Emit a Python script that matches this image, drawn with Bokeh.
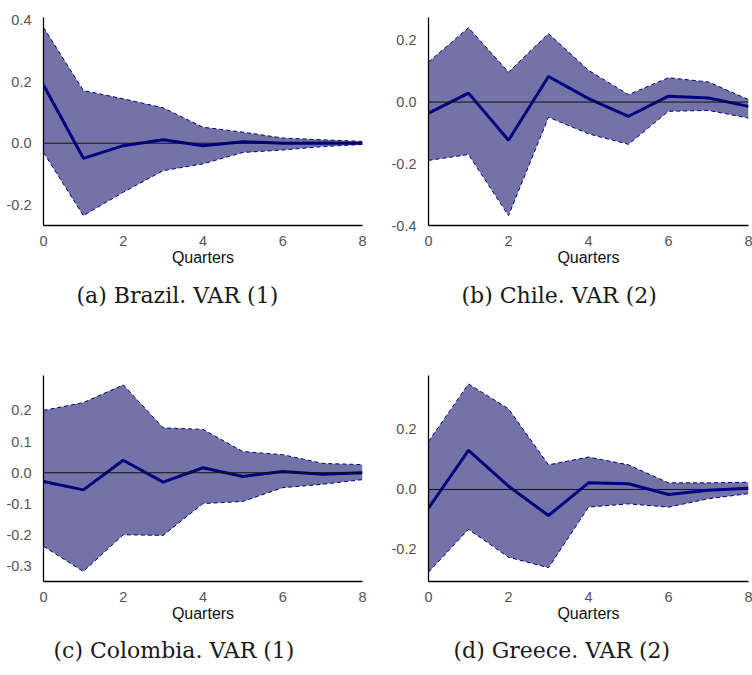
from bokeh.plotting import figure
from bokeh.layouts import gridplot
from bokeh.models import Span, Title, FixedTicker, NumeralTickFormatter, Range1d
from bokeh.embed import file_html
from bokeh.resources import INLINE

# Horizon (quarters)
quarters = [0, 1, 2, 3, 4, 5, 6, 7, 8]

# Brazil, VAR(1)
brazil_irf = [0.189, -0.049, -0.008, 0.011, -0.008, 0.005, 0.000, 0.001, 0.000]
brazil_upper = [0.376, 0.171, 0.144, 0.115, 0.052, 0.036, 0.017, 0.011, 0.006]
brazil_lower = [-0.030, -0.235, -0.159, -0.089, -0.067, -0.030, -0.022, -0.011, -0.004]

# Chile, VAR(2)
chile_irf = [-0.036, 0.029, -0.124, 0.083, 0.011, -0.046, 0.019, 0.013, -0.014]
chile_upper = [0.130, 0.241, 0.097, 0.222, 0.103, 0.024, 0.079, 0.065, 0.008]
chile_lower = [-0.189, -0.170, -0.368, -0.049, -0.103, -0.137, -0.030, -0.027, -0.052]

# Colombia, VAR(1)
colombia_irf = [-0.028, -0.055, 0.040, -0.030, 0.016, -0.012, 0.004, -0.005, 0.000]
colombia_upper = [0.200, 0.225, 0.282, 0.144, 0.139, 0.068, 0.058, 0.030, 0.026]
colombia_lower = [-0.236, -0.317, -0.199, -0.201, -0.099, -0.092, -0.048, -0.037, -0.022]

# Greece, VAR(2)
greece_irf = [-0.062, 0.130, 0.011, -0.087, 0.022, 0.019, -0.017, -0.003, 0.004]
greece_upper = [0.160, 0.352, 0.269, 0.082, 0.108, 0.082, 0.022, 0.022, 0.024]
greece_lower = [-0.276, -0.133, -0.226, -0.261, -0.059, -0.048, -0.059, -0.031, -0.014]

x_ticks = [0, 2, 4, 6, 8]

BAND = "#7373a7"
NAVY = "#000080"
SANS = "Liberation Sans"
SERIF = "DejaVu Serif"


def panel(irf, upper, lower, caption, y_range, y_ticks, *, width, height,
          left, right, top, bottom, cap_offset, cap_standoff):
    p = figure(width=width, height=height, output_backend="svg",
               toolbar_location=None, x_range=Range1d(0, 8),
               y_range=Range1d(*y_range),
               min_border_left=left, min_border_right=right,
               min_border_top=top, min_border_bottom=bottom)
    p.outline_line_color = None
    p.grid.visible = False
    p.background_fill_color = "white"
    p.border_fill_color = "white"

    # confidence band with dashed edges, zero line, point estimate
    p.varea(x=quarters, y1=lower, y2=upper, fill_color=BAND, fill_alpha=1.0)
    p.line(quarters, upper, line_color=NAVY, line_width=1, line_dash="4 3")
    p.line(quarters, lower, line_color=NAVY, line_width=1, line_dash="4 3")
    p.add_layout(Span(location=0, dimension="width", line_color="#111111",
                      line_width=1))
    p.line(quarters, irf, line_color=NAVY, line_width=3)

    for ax in (p.xaxis[0], p.yaxis[0]):
        ax.axis_line_color = "black"
        ax.axis_line_width = 1.3
        ax.major_tick_line_color = None
        ax.minor_tick_line_color = None
        ax.major_label_text_font = SANS
        ax.major_label_text_font_size = "14.5px"
        ax.major_label_text_color = "#555555"
    p.xaxis.ticker = FixedTicker(ticks=x_ticks)
    p.xaxis.major_label_standoff = 4
    p.xaxis.axis_label = "Quarters"
    p.xaxis.axis_label_text_font = SANS
    p.xaxis.axis_label_text_font_style = "normal"
    p.xaxis.axis_label_text_font_size = "16px"
    p.xaxis.axis_label_text_color = "#111111"
    p.xaxis.axis_label_standoff = 0
    p.yaxis.ticker = FixedTicker(ticks=y_ticks)
    p.yaxis.formatter = NumeralTickFormatter(format="0.0")
    p.yaxis.major_label_standoff = 6

    p.add_layout(Title(text=caption, align="left", offset=cap_offset,
                       text_font=SERIF, text_font_size="22px",
                       text_font_style="normal", text_color="#1a1a1a",
                       standoff=cap_standoff), "below")
    return p


pa = panel(brazil_irf, brazil_upper, brazil_lower, "(a) Brazil. VAR (1)",
           (-0.267, 0.408), [-0.2, 0.0, 0.2, 0.4],
           width=376, height=337, left=43, right=14, top=17, bottom=112,
           cap_offset=33, cap_standoff=25)
pb = panel(chile_irf, chile_upper, chile_lower, "(b) Chile. VAR (2)",
           (-0.4, 0.274), [-0.4, -0.2, 0.0, 0.2],
           width=376, height=337, left=52, right=4, top=17, bottom=112,
           cap_offset=33, cap_standoff=25)
pc = panel(colombia_irf, colombia_upper, colombia_lower, "(c) Colombia. VAR (1)",
           (-0.349, 0.312), [-0.3, -0.2, -0.1, 0.0, 0.1, 0.2],
           width=376, height=338, left=43, right=14, top=38, bottom=94,
           cap_offset=10, cap_standoff=23)
pd_ = panel(greece_irf, greece_upper, greece_lower, "(d) Greece. VAR (2)",
            (-0.307, 0.38), [-0.2, 0.0, 0.2],
            width=376, height=338, left=52, right=4, top=38, bottom=94,
            cap_offset=25, cap_standoff=23)

grid = gridplot([[pa, pb], [pc, pd_]], toolbar_location=None)

open("out.html", "w").write(file_html(grid, INLINE))
